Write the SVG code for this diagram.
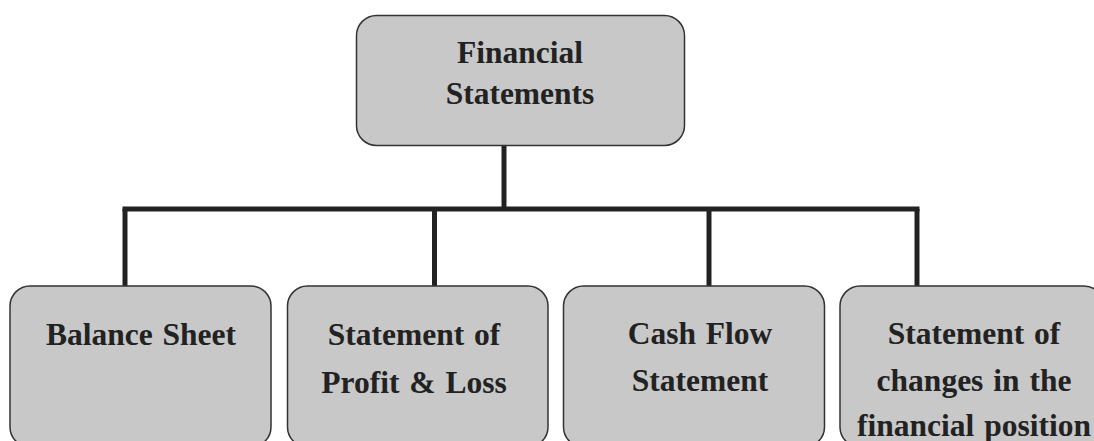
<svg xmlns="http://www.w3.org/2000/svg" width="1094" height="441" viewBox="0 0 1094 441">
<style>
.box{fill:#c8c8c8;stroke:#333333;stroke-width:1.5}
.t{font-family:"Liberation Serif","Times New Roman",serif;font-weight:bold;font-size:31.5px;fill:#222222;text-anchor:middle;word-spacing:2px}
.c{stroke:#222222;stroke-width:5;fill:none}
</style>
<rect width="1094" height="441" fill="#ffffff"/>
<g id="connectors">
<line class="c" x1="504" y1="146" x2="504" y2="209"/>
<line class="c" x1="122.5" y1="209" x2="919.5" y2="209"/>
<line class="c" x1="125" y1="209" x2="125" y2="286"/>
<line class="c" x1="434.5" y1="209" x2="434.5" y2="286"/>
<line class="c" x1="709" y1="209" x2="709" y2="286"/>
<line class="c" x1="917" y1="209" x2="917" y2="286"/>
</g>
<g id="financial-statements">
<rect class="box" x="356.5" y="15.5" width="328" height="130" rx="20"/>
<text class="t" x="520" y="63">Financial</text>
<text class="t" x="520" y="104">Statements</text>
</g>
<g id="balance-sheet">
<rect class="box" x="10" y="286" width="261" height="161" rx="20"/>
<text class="t" x="141" y="345">Balance Sheet</text>
</g>
<g id="profit-loss">
<rect class="box" x="287.5" y="286" width="260.5" height="161" rx="20"/>
<text class="t" x="414" y="345">Statement of</text>
<text class="t" x="414" y="393">Profit &amp; Loss</text>
</g>
<g id="cash-flow">
<rect class="box" x="563.5" y="286" width="261" height="161" rx="20"/>
<text class="t" x="700" y="344">Cash Flow</text>
<text class="t" x="700" y="391">Statement</text>
</g>
<g id="changes-position">
<rect class="box" x="840" y="286" width="264" height="161" rx="20"/>
<text class="t" x="974" y="344">Statement of</text>
<text class="t" x="974" y="391">changes in the</text>
<text class="t" x="974" y="436">financial position</text>
</g>
</svg>
